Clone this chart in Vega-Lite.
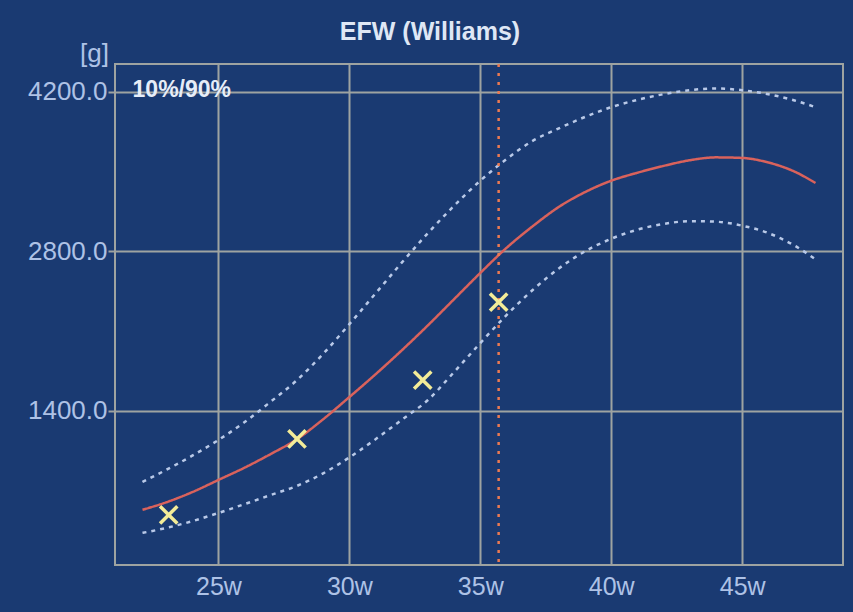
{
  "$schema": "https://vega.github.io/schema/vega-lite/v6.json",
  "autosize": {"type": "none"},
  "width": 728,
  "height": 501,
  "padding": {"left": 115, "top": 64, "right": 10, "bottom": 47},
  "background": "#1a3a72",
  "title": {
    "text": "EFW (Williams)",
    "anchor": "middle",
    "frame": "group",
    "dx": -49,
    "dy": 48,
    "offset": 18,
    "baseline": "bottom",
    "font": "Liberation Sans",
    "fontSize": 25,
    "fontWeight": "bold",
    "color": "#dfe7f5"
  },
  "config": {
    "view": {"stroke": "#9ea3a1", "strokeWidth": 2, "fill": null},
    "font": "Liberation Sans"
  },
  "datasets": {
    "curves": [
      {"series": "median", "week": 22.1, "g": 530},
      {"series": "median", "week": 23, "g": 595},
      {"series": "median", "week": 24, "g": 685},
      {"series": "median", "week": 25, "g": 792},
      {"series": "median", "week": 26, "g": 900},
      {"series": "median", "week": 27, "g": 1020},
      {"series": "median", "week": 28, "g": 1150},
      {"series": "median", "week": 29, "g": 1325},
      {"series": "median", "week": 30, "g": 1520},
      {"series": "median", "week": 31, "g": 1720},
      {"series": "median", "week": 32, "g": 1930},
      {"series": "median", "week": 33, "g": 2150},
      {"series": "median", "week": 34, "g": 2380},
      {"series": "median", "week": 35, "g": 2610},
      {"series": "median", "week": 36, "g": 2830},
      {"series": "median", "week": 37, "g": 3020},
      {"series": "median", "week": 38, "g": 3190},
      {"series": "median", "week": 39, "g": 3320},
      {"series": "median", "week": 40, "g": 3420},
      {"series": "median", "week": 41, "g": 3490},
      {"series": "median", "week": 42, "g": 3550},
      {"series": "median", "week": 43, "g": 3600},
      {"series": "median", "week": 44, "g": 3625},
      {"series": "median", "week": 45, "g": 3620},
      {"series": "median", "week": 46, "g": 3580},
      {"series": "median", "week": 47, "g": 3500},
      {"series": "median", "week": 47.8, "g": 3400},
      {"series": "p90", "week": 22.1, "g": 774},
      {"series": "p90", "week": 23, "g": 880},
      {"series": "p90", "week": 24, "g": 1005},
      {"series": "p90", "week": 25, "g": 1143},
      {"series": "p90", "week": 26, "g": 1300},
      {"series": "p90", "week": 27, "g": 1480},
      {"series": "p90", "week": 28, "g": 1669},
      {"series": "p90", "week": 29, "g": 1900},
      {"series": "p90", "week": 30, "g": 2160},
      {"series": "p90", "week": 31, "g": 2430},
      {"series": "p90", "week": 32, "g": 2700},
      {"series": "p90", "week": 33, "g": 2960},
      {"series": "p90", "week": 34, "g": 3200},
      {"series": "p90", "week": 35, "g": 3420},
      {"series": "p90", "week": 36, "g": 3610},
      {"series": "p90", "week": 37, "g": 3770},
      {"series": "p90", "week": 38, "g": 3880},
      {"series": "p90", "week": 39, "g": 3980},
      {"series": "p90", "week": 40, "g": 4066},
      {"series": "p90", "week": 41, "g": 4130},
      {"series": "p90", "week": 42, "g": 4180},
      {"series": "p90", "week": 43, "g": 4215},
      {"series": "p90", "week": 44, "g": 4230},
      {"series": "p90", "week": 45, "g": 4215},
      {"series": "p90", "week": 46, "g": 4180},
      {"series": "p90", "week": 47, "g": 4125},
      {"series": "p90", "week": 47.8, "g": 4066},
      {"series": "p10", "week": 22.1, "g": 327},
      {"series": "p10", "week": 23, "g": 370},
      {"series": "p10", "week": 24, "g": 430},
      {"series": "p10", "week": 25, "g": 502},
      {"series": "p10", "week": 26, "g": 580},
      {"series": "p10", "week": 27, "g": 660},
      {"series": "p10", "week": 28, "g": 740},
      {"series": "p10", "week": 29, "g": 850},
      {"series": "p10", "week": 30, "g": 990},
      {"series": "p10", "week": 31, "g": 1150},
      {"series": "p10", "week": 32, "g": 1320},
      {"series": "p10", "week": 33, "g": 1494},
      {"series": "p10", "week": 34, "g": 1740},
      {"series": "p10", "week": 35, "g": 1994},
      {"series": "p10", "week": 36, "g": 2240},
      {"series": "p10", "week": 37, "g": 2460},
      {"series": "p10", "week": 38, "g": 2650},
      {"series": "p10", "week": 39, "g": 2800},
      {"series": "p10", "week": 40, "g": 2910},
      {"series": "p10", "week": 41, "g": 2990},
      {"series": "p10", "week": 42, "g": 3040},
      {"series": "p10", "week": 43, "g": 3065},
      {"series": "p10", "week": 44, "g": 3060},
      {"series": "p10", "week": 45, "g": 3025},
      {"series": "p10", "week": 46, "g": 2960},
      {"series": "p10", "week": 47, "g": 2850},
      {"series": "p10", "week": 47.8, "g": 2730}
    ],
    "measurements": [
      {"week": 23.1, "g": 485},
      {"week": 28.0, "g": 1152},
      {"week": 32.8, "g": 1669},
      {"week": 35.7, "g": 2354}
    ],
    "current": [{"week": 35.7}],
    "label": [{"week": 21.72, "g": 4215, "text": "10%/90%"}]
  },
  "encoding": {
    "x": {
      "field": "week",
      "type": "quantitative",
      "scale": {"domain": [21.05, 48.85], "nice": false, "zero": false},
      "axis": {
        "title": null,
        "values": [25, 30, 35, 40, 45],
        "labelExpr": "datum.value + 'w'",
        "grid": true,
        "gridColor": "#9ea3a1",
        "gridWidth": 2,
        "gridOpacity": 1,
        "ticks": false,
        "domain": false,
        "labelPadding": 9,
        "labelFontSize": 25,
        "labelColor": "#aec2e6",
        "labelFont": "Liberation Sans"
      }
    }
  },
  "layer": [
    {
      "data": {"name": "curves"},
      "mark": {"type": "line", "interpolate": "monotone", "clip": true},
      "encoding": {
        "y": {
          "field": "g",
          "type": "quantitative",
          "scale": {"domain": [45, 4445], "nice": false, "zero": false},
          "axis": {
            "title": "[g]",
            "titleAngle": 0,
            "titleX": -21,
            "titleY": -11,
            "titleAlign": "center",
            "titleBaseline": "middle",
            "titleFontSize": 26,
            "titleFontWeight": "normal",
            "titleColor": "#aec2e6",
            "titleFont": "Liberation Sans",
            "values": [1400, 2800, 4200],
            "format": ".1f",
            "grid": true,
            "gridColor": "#9ea3a1",
            "gridWidth": 2,
            "gridOpacity": 1,
            "ticks": true,
            "tickSize": 7,
            "tickColor": "#9ea3a1",
            "tickWidth": 2,
            "domain": false,
            "labelPadding": 1,
            "labelFontSize": 26,
            "labelColor": "#aec2e6",
            "labelFont": "Liberation Sans"
          }
        },
        "detail": {"field": "series"},
        "color": {
          "field": "series",
          "type": "nominal",
          "scale": {"domain": ["median", "p90", "p10"], "range": ["#d9625c", "#b9c9e8", "#b9c9e8"]},
          "legend": null
        },
        "strokeDash": {
          "field": "series",
          "type": "nominal",
          "scale": {"domain": ["median", "p90", "p10"], "range": [[1, 0], [4, 5], [4, 5]]},
          "legend": null
        },
        "strokeWidth": {"value": 2.5}
      }
    },
    {
      "data": {"name": "current"},
      "mark": {"type": "rule", "color": "#ec7a52", "strokeDash": [3, 6], "strokeWidth": 2.5},
      "encoding": {}
    },
    {
      "data": {"name": "measurements"},
      "mark": {
        "type": "point",
        "shape": "M-1,-1L1,1M-1,1L1,-1",
        "filled": false,
        "stroke": "#f3ec98",
        "strokeWidth": 3.5,
        "size": 300,
        "opacity": 1
      },
      "encoding": {
        "y": {"field": "g", "type": "quantitative"}
      }
    },
    {
      "data": {"name": "label"},
      "mark": {
        "type": "text",
        "align": "left",
        "baseline": "middle",
        "font": "Liberation Sans",
        "fontSize": 23,
        "fontWeight": "bold",
        "color": "#e6edf8"
      },
      "encoding": {
        "y": {"field": "g", "type": "quantitative"},
        "text": {"field": "text"}
      }
    }
  ]
}
